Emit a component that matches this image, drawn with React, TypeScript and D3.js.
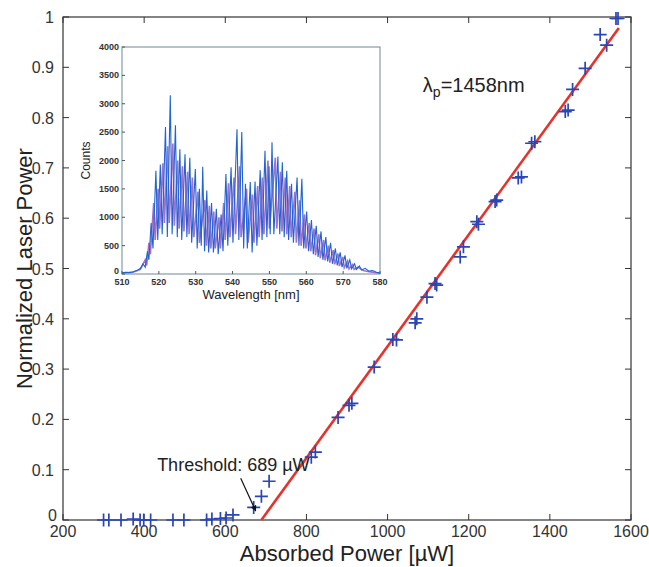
import { useEffect, useRef } from 'react'
import * as d3 from 'd3'

// main plot: absorbed power (uW) vs normalized laser power
const powerX = [300, 313, 343, 373, 390, 399, 416, 471, 498, 554, 567, 588, 602, 619,
  670, 689, 708, 812, 822, 878, 905, 912, 967, 1013, 1022, 1068, 1072, 1097, 1117, 1121,
  1179, 1187, 1220, 1224, 1265, 1269, 1322, 1330, 1355, 1363, 1438, 1445, 1456, 1487,
  1524, 1540, 1563, 1568]
const laserY = [0, 0, 0, 0.002, 0, 0, 0, 0, 0, 0, 0.002, 0.003, 0.004, 0.01,
  0.025, 0.047, 0.077, 0.125, 0.135, 0.204, 0.228, 0.232, 0.304, 0.359, 0.358, 0.392, 0.4, 0.443, 0.47, 0.467,
  0.523, 0.543, 0.593, 0.588, 0.633, 0.636, 0.68, 0.682, 0.749, 0.752, 0.812, 0.815, 0.856, 0.898,
  0.965, 0.944, 0.997, 0.997]
const fitX = [689, 1570]
const fitY = [0, 0.978]

const xTicks = [200, 400, 600, 800, 1000, 1200, 1400, 1600]
const yTicks = [0, 0.1, 0.2, 0.3, 0.4, 0.5, 0.6, 0.7, 0.8, 0.9, 1]

// inset spectrum: [wavelength nm, counts]
const blueSpectrum: [number, number][] = [
  [510, 20], [511, 30], [512, 25], [513, 40], [514, 60], [515, 100], [515.7, 180], [516.3, 120],
  [516.9, 400], [517.3, 250], [517.9, 900], [518.4, 450], [519.2, 1820], [519.7, 600], [520.4, 1930],
  [520.9, 700], [521.8, 2590], [522.3, 650], [523.1, 3150], [523.6, 700], [524.5, 2620], [525.0, 650],
  [525.7, 2200], [526.2, 600], [527.1, 2110], [527.6, 650], [528.4, 2050], [528.9, 550], [529.9, 1850],
  [530.4, 450], [531.0, 1500], [531.5, 500], [531.9, 1890], [532.4, 400], [533.0, 1470], [533.5, 380],
  [534.3, 1250], [534.8, 380], [535.6, 1150], [536.1, 350], [536.9, 1050], [537.4, 400], [538.2, 1760],
  [538.7, 500], [539.6, 1880], [540.1, 550], [541.2, 2550], [541.7, 600], [542.5, 2500], [543.0, 450],
  [543.5, 1590], [544.0, 450], [544.8, 1620], [545.3, 380], [546.1, 1630], [546.6, 500], [547.5, 1830],
  [548.0, 600], [548.8, 2170], [549.3, 650], [549.9, 1900], [550.2, 700], [550.7, 2320], [551.2, 700],
  [552.3, 2070], [552.8, 700], [553.5, 1970], [554.0, 650], [554.7, 1820], [555.2, 600], [556.0, 1590],
  [556.5, 550], [557.5, 1700], [558.0, 500], [558.8, 1680], [559.3, 450], [560.1, 1100], [560.6, 400],
  [561.4, 950], [561.9, 350], [562.7, 850], [563.2, 300], [564.0, 750], [564.5, 250], [565.3, 650],
  [565.8, 220], [566.6, 550], [567.1, 180], [567.9, 450], [568.4, 150], [569.2, 380], [569.7, 120],
  [570.5, 330], [571.0, 100], [571.8, 250], [572.3, 90], [573.1, 180], [573.6, 80], [574.4, 140],
  [575, 70], [576, 100], [577, 50], [578, 60], [579, 30], [580, 20],
]
const purpleSpectrum: [number, number][] = [
  [510, 15], [513, 30], [515, 80], [516.3, 250], [516.7, 150], [517.3, 550], [517.7, 350], [518.6, 1250],
  [519.0, 600], [519.8, 1500], [520.2, 800], [521.1, 1950], [521.5, 900], [522.4, 2250], [522.8, 900],
  [523.8, 2300], [524.2, 850], [525.1, 2000], [525.5, 800], [526.4, 1900], [526.8, 750], [527.8, 1800],
  [528.2, 700], [529.1, 1700], [529.5, 650], [530.6, 1450], [531.0, 550], [532.5, 1300], [532.9, 500],
  [533.7, 1200], [534.1, 450], [534.9, 1100], [535.3, 450], [536.3, 1000], [536.7, 450], [537.6, 1250],
  [538.0, 600], [538.9, 1600], [539.3, 650], [540.4, 1700], [540.8, 700], [541.9, 1900], [542.3, 650],
  [543.8, 1500], [544.2, 550], [545.4, 1400], [545.8, 550], [546.8, 1550], [547.2, 650], [548.1, 1700],
  [548.5, 700], [549.6, 2000], [550.0, 800], [551.6, 2050], [552.0, 800], [553.0, 1800], [553.4, 750],
  [554.3, 1700], [554.7, 700], [555.5, 1550], [555.9, 650], [556.9, 1450], [557.3, 550], [558.2, 1300],
  [558.6, 500], [559.5, 1050], [559.9, 450], [560.8, 900], [561.2, 400], [562.1, 800], [562.5, 330],
  [563.4, 700], [563.8, 280], [564.7, 600], [565.1, 240], [566.0, 500], [566.4, 200], [567.3, 420],
  [567.7, 170], [568.6, 360], [569.0, 140], [569.9, 300], [570.3, 110], [571.2, 230], [571.6, 90],
  [572.6, 170], [573.0, 80], [574, 120], [575.5, 60], [577, 40], [580, 15],
]
const insetXTicks = [510, 520, 530, 540, 550, 560, 570, 580]
const insetYTicks = [0, 500, 1000, 1500, 2000, 2500, 3000, 3500, 4000]

const W = 649
const H = 567
const FONT = 'Liberation Sans, Arial, sans-serif'

export default function App() {
  const svgRef = useRef<SVGSVGElement>(null)

  useEffect(() => {
    if (!svgRef.current) return
    const svg = d3.select(svgRef.current)
    svg.selectAll('*').remove()

    const m = { left: 63, right: 631, top: 17, bottom: 520 }
    const x = d3.scaleLinear().domain([200, 1600]).range([m.left, m.right])
    const y = d3.scaleLinear().domain([0, 1]).range([m.bottom, m.top])

    svg.append('rect').attr('width', W).attr('height', H).attr('fill', '#fff')

    const defs = svg.append('defs')
    defs.append('marker').attr('id', 'arrowHead').attr('viewBox', '0 0 10 10')
      .attr('refX', 9).attr('refY', 5).attr('markerWidth', 5).attr('markerHeight', 5)
      .attr('orient', 'auto')
      .append('path').attr('d', 'M0,0L10,5L0,10z').attr('fill', '#111')

    const axisColor = '#333'
    const tickLen = 6

    // frame
    svg.append('rect')
      .attr('x', m.left).attr('y', m.top)
      .attr('width', m.right - m.left).attr('height', m.bottom - m.top)
      .attr('fill', 'none').attr('stroke', axisColor).attr('stroke-width', 1.2)

    // ticks point inward on all four sides
    xTicks.forEach(t => {
      svg.append('line').attr('x1', x(t)).attr('x2', x(t)).attr('y1', m.bottom).attr('y2', m.bottom - tickLen)
        .attr('stroke', axisColor)
      svg.append('line').attr('x1', x(t)).attr('x2', x(t)).attr('y1', m.top).attr('y2', m.top + tickLen)
        .attr('stroke', axisColor)
      svg.append('text').attr('x', x(t)).attr('y', m.bottom + 17).attr('text-anchor', 'middle')
        .attr('font-family', FONT).attr('font-size', 16).attr('fill', '#333').text(t)
    })
    yTicks.forEach(t => {
      svg.append('line').attr('x1', m.left).attr('x2', m.left + tickLen).attr('y1', y(t)).attr('y2', y(t))
        .attr('stroke', axisColor)
      svg.append('line').attr('x1', m.right).attr('x2', m.right - tickLen).attr('y1', y(t)).attr('y2', y(t))
        .attr('stroke', axisColor)
      svg.append('text').attr('x', t === 0 ? m.left - 6 : m.left - 9).attr('y', y(t) + (t === 0 ? 1 : 6))
        .attr('text-anchor', 'end')
        .attr('font-family', FONT).attr('font-size', 16).attr('fill', '#333').text(String(t))
    })

    // axis titles
    svg.append('text').attr('x', (m.left + m.right) / 2).attr('y', 561).attr('text-anchor', 'middle')
      .attr('font-family', FONT).attr('font-size', 22).attr('fill', '#222')
      .text('Absorbed Power [\u00b5W]')
    svg.append('text')
      .attr('transform', `translate(32,${(m.top + m.bottom) / 2}) rotate(-90)`)
      .attr('text-anchor', 'middle')
      .attr('font-family', FONT).attr('font-size', 22).attr('fill', '#222')
      .text('Normalized Laser Power')

    // linear fit
    svg.append('line')
      .attr('x1', x(fitX[0])).attr('y1', y(fitY[0]))
      .attr('x2', x(fitX[1])).attr('y2', y(fitY[1]))
      .attr('stroke', '#e5322a').attr('stroke-width', 2.6)

    // data markers
    const arm = 6.5
    const pts = svg.append('g').attr('stroke', '#2a45b6').attr('stroke-width', 1.7)
    powerX.forEach((px, i) => {
      const cx = x(px)
      const cy = y(laserY[i])
      pts.append('path').attr('d', `M${cx - arm},${cy}H${cx + arm}M${cx},${cy - arm}V${cy + arm}`)
    })

    // threshold annotation
    svg.append('line')
      .attr('x1', x(638)).attr('y1', y(0.083))
      .attr('x2', x(675)).attr('y2', y(0.018))
      .attr('stroke', '#111').attr('stroke-width', 1.2)
      .attr('marker-end', 'url(#arrowHead)')
    svg.append('text').attr('x', x(432)).attr('y', y(0.097))
      .attr('font-family', FONT).attr('font-size', 18).attr('fill', '#222')
      .text('Threshold: 689 \u00b5W')

    const lam = svg.append('text').attr('x', x(1087)).attr('y', y(0.851))
      .attr('font-family', FONT).attr('font-size', 20).attr('fill', '#222')
    lam.append('tspan').text('\u03bb')
    lam.append('tspan').attr('font-size', 14).attr('dy', 5).text('p')
    lam.append('tspan').attr('dy', -5).text('=1458nm')

    // inset spectrum
    const ins = { left: 122, right: 380, top: 47, bottom: 274 }
    const ix = d3.scaleLinear().domain([510, 580]).range([ins.left, ins.right])
    const iy = d3.scaleLinear().domain([0, 4000]).range([ins.bottom, ins.top])
    const inset = svg.append('g')
    inset.append('rect').attr('x', ins.left).attr('y', ins.top)
      .attr('width', ins.right - ins.left).attr('height', ins.bottom - ins.top)
      .attr('fill', '#fff')

    defs.append('clipPath').attr('id', 'insetClip').append('rect')
      .attr('x', ins.left).attr('y', ins.top)
      .attr('width', ins.right - ins.left).attr('height', ins.bottom - ins.top)

    const line = d3.line<[number, number]>().x(d => ix(d[0])).y(d => iy(d[1]))
    const specG = inset.append('g').attr('clip-path', 'url(#insetClip)')
    specG.append('path').attr('d', line(purpleSpectrum)).attr('fill', 'none')
      .attr('stroke', '#9a62c4').attr('stroke-width', 1.6).attr('stroke-opacity', 0.9)
    specG.append('path').attr('d', line(blueSpectrum)).attr('fill', 'none')
      .attr('stroke', '#1f63d6').attr('stroke-width', 1.1)

    inset.append('rect').attr('x', ins.left).attr('y', ins.top)
      .attr('width', ins.right - ins.left).attr('height', ins.bottom - ins.top)
      .attr('fill', 'none').attr('stroke', '#6f8796').attr('stroke-width', 1)

    insetXTicks.forEach(t => {
      inset.append('line').attr('x1', ix(t)).attr('x2', ix(t)).attr('y1', ins.bottom).attr('y2', ins.bottom - 3)
        .attr('stroke', '#555')
      inset.append('text').attr('x', ix(t)).attr('y', ins.bottom + 11).attr('text-anchor', 'middle')
        .attr('font-family', FONT).attr('font-size', 9).attr('font-weight', 'bold').attr('fill', '#333').text(t)
    })
    insetYTicks.forEach(t => {
      inset.append('line').attr('x1', ins.left).attr('x2', ins.left + 3).attr('y1', iy(t)).attr('y2', iy(t))
        .attr('stroke', '#555')
      inset.append('text').attr('x', ins.left - 3).attr('y', iy(t) + (t === 0 ? 0 : 3)).attr('text-anchor', 'end')
        .attr('font-family', FONT).attr('font-size', 9).attr('font-weight', 'bold').attr('fill', '#333').text(t)
    })
    inset.append('text').attr('x', (ins.left + ins.right) / 2).attr('y', ins.bottom + 25)
      .attr('text-anchor', 'middle').attr('font-family', FONT).attr('font-size', 13).attr('fill', '#222')
      .text('Wavelength [nm]')
    inset.append('text')
      .attr('transform', `translate(${ins.left - 32},${(ins.top + ins.bottom) / 2}) rotate(-90)`)
      .attr('text-anchor', 'middle').attr('font-family', FONT).attr('font-size', 12).attr('fill', '#222')
      .text('Counts')
  }, [])

  return (
    <svg ref={svgRef} width={W} height={H}
      style={{ position: 'absolute', left: 0, top: 0, background: '#fff' }} />
  )
}
